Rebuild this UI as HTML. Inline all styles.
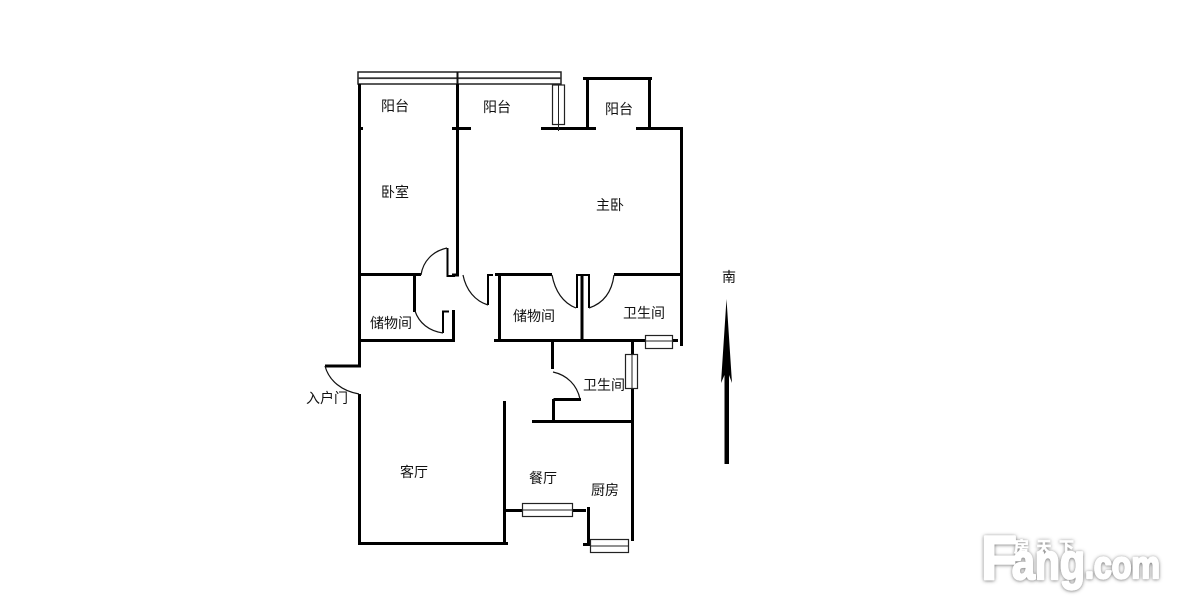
<!DOCTYPE html>
<html><head><meta charset="utf-8">
<style>
html,body{margin:0;padding:0;background:#fff;width:1177px;height:605px;overflow:hidden}
svg{display:block}
.l{font-family:"Liberation Sans","Noto Sans CJK SC",sans-serif;font-size:14px;fill:#111;text-anchor:middle;dominant-baseline:central}
.w{stroke:#000;stroke-width:3;fill:none}
.t{stroke:#111;stroke-width:1.2;fill:none}
.m{stroke:#000;stroke-width:2;fill:none}
.win{stroke:#222;stroke-width:1.2;fill:#fff}
.wm{font-family:"Liberation Sans",sans-serif;font-weight:bold;fill:#fff;stroke:#fff;stroke-width:2.2;stroke-linejoin:round}
.wc{font-family:"Liberation Sans","Noto Sans CJK SC",sans-serif;font-weight:bold;fill:#fff;stroke:#fff;stroke-width:.5}
</style></head><body>
<svg width="1177" height="605" viewBox="0 0 1177 605" xmlns="http://www.w3.org/2000/svg">
<defs>
<filter id="s" x="-10%" y="-20%" width="120%" height="140%">
<feDropShadow dx="0" dy="0.5" stdDeviation="1.8" flood-color="#555" flood-opacity="0.85"/>
</filter>
</defs>
<rect width="1177" height="605" fill="#fff"/>

<!-- top balcony rail -->
<rect x="358" y="72" width="203" height="12" fill="#fff" stroke="#222" stroke-width="1.5"/>
<rect x="358" y="77.3" width="203" height="1.8" fill="#333"/>
<rect x="456.5" y="72" width="2" height="12" fill="#111"/>

<!-- main walls -->
<path class="w" d="M359.5 84V366M325 366H361M359.5 394V544.5M358 543.5H508"/>
<path class="w" d="M457.5 84V276M452 128.5H471M359 128.5H363M541 128.5H596M636 128.5H683"/>
<path class="w" d="M587.5 129V78.5M583 78.5H652M649.5 78.5V129M681.5 127V346"/>
<path class="w" d="M358 274.5H421M414.5 274.5V312M452 275H459"/>
<path class="w" d="M358 340.5H455M453.5 310V341"/>
<path class="w" d="M495 274.5H552M499.5 274.5V341M614 274.5H680M494 340.5H646M672 340.5H678"/>
<path class="w" d="M582 274V341M552.5 341V369M553.5 399.5H581M553.5 399V422M532 421.5H633M632.5 340V541"/>
<path class="w" d="M504.5 401V545M504 510.5H586M588.5 507V545M583 544.5H591"/>

<!-- door leaves -->
<path class="m" d="M447.5 248V276H455M493 275H488V305M443 333V311.5H449"/>
<path class="m" d="M577 308V275H589V308"/>
<path class="t" d="M421 275C423 261 433 251 447 248"/>
<path class="t" d="M463 275C466 290 475 301 488 305"/>
<path class="t" d="M415 311C419 323 429 331 443 333"/>
<path class="t" d="M552 275C555 291 563 303 576 308"/>
<path class="t" d="M614 275C612 291 604 303 589 308"/>
<path class="t" d="M553 372C567 375 577 385 580 399"/>
<path class="t" d="M325 366C329 381 342 391 359 394"/>

<!-- windows -->
<path stroke="#222" stroke-width="1" d="M558.5 84V131"/>
<rect class="win" x="552.5" y="85" width="12" height="39.5"/>
<path stroke="#222" stroke-width="1" d="M558.5 85V124.5"/>
<rect class="win" x="645.5" y="335.5" width="27" height="13"/>
<path stroke="#222" stroke-width="1" d="M645.5 341H673"/>
<rect class="win" x="625.5" y="354.5" width="12" height="34"/>
<path stroke="#222" stroke-width="1" d="M632 354.5V388.5"/>
<rect class="win" x="522.5" y="503.5" width="50" height="13"/>
<path stroke="#222" stroke-width="1" d="M522.5 510H572.5"/>
<rect class="win" x="590.5" y="539.5" width="38" height="13"/>
<path stroke="#222" stroke-width="1" d="M590.5 546H628.5"/>

<!-- arrow -->
<polygon points="726.5,299 732,383 729,375 729,464 724.5,464 724.5,375 721,383" fill="#000"/>

<!-- labels -->
<text class="l" x="395" y="106">阳台</text>
<text class="l" x="497" y="107">阳台</text>
<text class="l" x="619" y="109">阳台</text>
<text class="l" x="395" y="192">卧室</text>
<text class="l" x="610" y="205">主卧</text>
<text class="l" x="391" y="323">储物间</text>
<text class="l" x="534" y="316">储物间</text>
<text class="l" x="644" y="313">卫生间</text>
<text class="l" x="604" y="385">卫生间</text>
<text class="l" x="327" y="398">入户门</text>
<text class="l" x="414" y="472">客厅</text>
<text class="l" x="543" y="478">餐厅</text>
<text class="l" x="605" y="490">厨房</text>
<text class="l" x="729" y="277">南</text>

<!-- watermark -->
<g filter="url(#s)">
<text class="wm" x="981" y="579" font-size="62" textLength="36" lengthAdjust="spacingAndGlyphs">F</text>
<text class="wm" x="1012" y="579" font-size="50" textLength="73" lengthAdjust="spacingAndGlyphs">ang</text>
<text class="wm" x="1085" y="578" font-size="38" textLength="75" lengthAdjust="spacingAndGlyphs">.com</text>
<text class="wc" x="1014" y="552" font-size="15" textLength="60">房天下</text>
</g>
</svg>
</body></html>
